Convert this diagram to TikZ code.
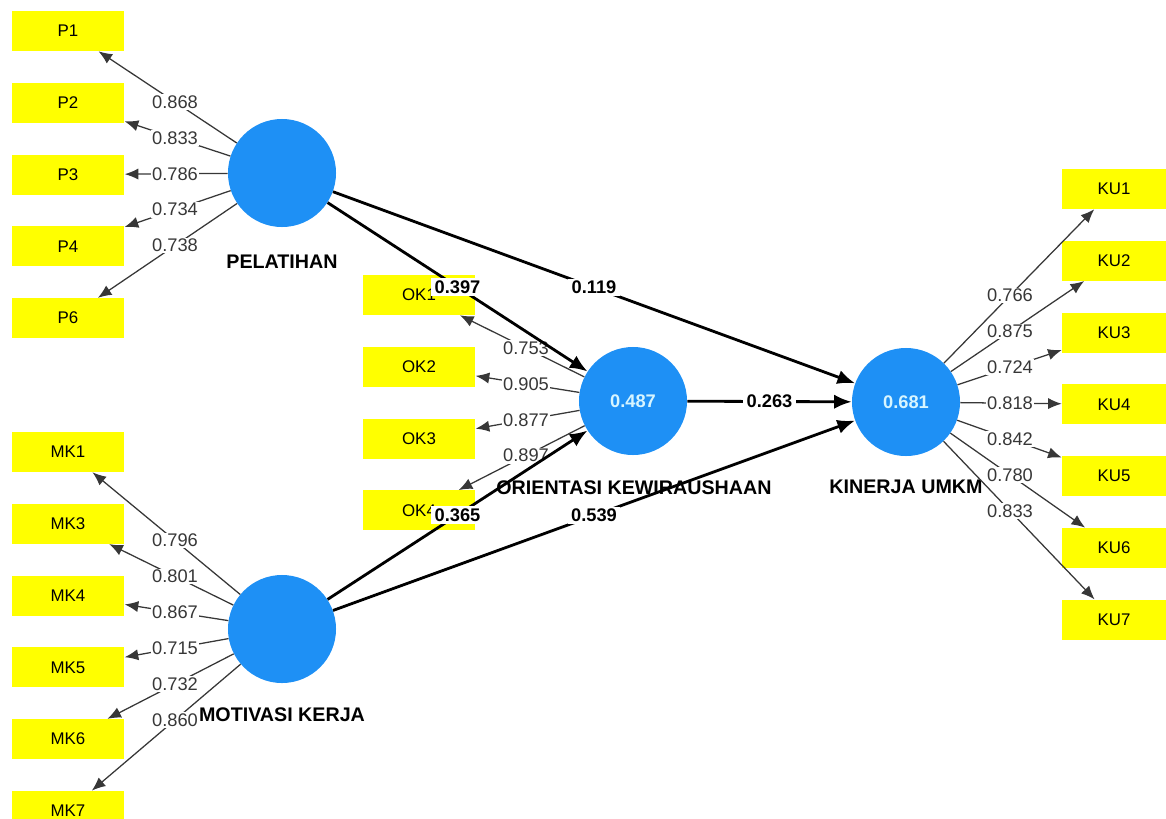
\documentclass[tikz,border=0pt]{standalone}
\usepackage{fontspec}
\setmainfont{Liberation Sans}
\usetikzlibrary{positioning,arrows.meta,calc}
\definecolor{lvblue}{RGB}{30,144,245}
\definecolor{lvtext}{RGB}{215,245,255}
\definecolor{ldgray}{RGB}{55,55,55}
\definecolor{indyellow}{RGB}{255,255,0}
\tikzset{
  ind/.style    ={rectangle, fill=indyellow, minimum width=2.82cm, minimum height=1.0cm, inner sep=0pt, font=\fontsize{12}{14}\selectfont},
  lv/.style     ={circle, fill=lvblue, minimum size=2.7cm, inner sep=0pt, text=lvtext, font=\bfseries\fontsize{13}{15}\selectfont},
  lvname/.style ={inner sep=0pt, font=\bfseries\fontsize{14}{16}\selectfont},
  ld/.style     ={-{Latex[length=3.4mm,width=2.8mm]}, draw=ldgray, line width=0.9pt},
  sm/.style     ={-{Latex[length=4.4mm,width=3.6mm]}, line width=2pt},
  ldval/.style  ={fill=white, inner sep=1pt, text=ldgray, font=\fontsize{13}{15}\selectfont},
  smval/.style  ={fill=white, inner xsep=2.5pt, inner ysep=1.5pt, font=\bfseries\fontsize{13}{15}\selectfont},
}

\begin{document}
\begin{tikzpicture}[x=0.025cm, y=-0.025cm, node distance=0.78cm]
  \useasboundingbox (0,0) rectangle (1166,818);

  % indicators
  \node[ind] (p1) at (68,31) {P1};
  \node[ind, below=of p1] (p2) {P2};
  \node[ind, below=of p2] (p3) {P3};
  \node[ind, below=of p3] (p4) {P4};
  \node[ind, below=of p4] (p6) {P6};

  \node[ind] (ok1) at (419,295) {OK1};
  \node[ind, below=of ok1] (ok2) {OK2};
  \node[ind, below=of ok2] (ok3) {OK3};
  \node[ind, below=of ok3] (ok4) {OK4};

  \node[ind] (mk1) at (68,452) {MK1};
  \node[ind, below=of mk1] (mk3) {MK3};
  \node[ind, below=of mk3] (mk4) {MK4};
  \node[ind, below=of mk4] (mk5) {MK5};
  \node[ind, below=of mk5] (mk6) {MK6};
  \node[ind, below=of mk6] (mk7) {MK7};

  \node[ind, minimum width=2.6cm] (ku1) at (1114,189) {KU1};
  \node[ind, minimum width=2.6cm, below=of ku1] (ku2) {KU2};
  \node[ind, minimum width=2.6cm, below=of ku2] (ku3) {KU3};
  \node[ind, minimum width=2.6cm, below=of ku3] (ku4) {KU4};
  \node[ind, minimum width=2.6cm, below=of ku4] (ku5) {KU5};
  \node[ind, minimum width=2.6cm, below=of ku5] (ku6) {KU6};
  \node[ind, minimum width=2.6cm, below=of ku6] (ku7) {KU7};

  % latent variables
  \node[lv] (pel) at (282,173) {};
  \node[lv] (mot) at (282,629) {};
  \node[lv] (okw) at (633,401) {0.487};
  \node[lv] (kin) at (906,402) {0.681};

  \node[lvname] (pelname) at (282,262) {PELATIHAN};
  \node[lvname] (motname) at (282,715) {MOTIVASI KERJA};
  \node[lvname] (okwname) at (634,488) {ORIENTASI KEWIRAUSHAAN};
  \node[lvname] (kinname) at (906,487) {KINERJA UMKM};

  % outer loadings
  \foreach \i/\v in {1/0.868, 2/0.833, 3/0.786, 4/0.734, 6/0.738}
    \draw[ld] (pel) -- (p\i) node[ldval] (vp\i) at ($(pel)!.5!(p\i)$) {\v};
  \foreach \i/\v in {1/0.753, 2/0.905, 3/0.877, 4/0.897}
    \draw[ld] (okw) -- (ok\i) node[ldval] (vok\i) at ($(okw)!.5!(ok\i)$) {\v};
  \foreach \i/\v in {1/0.796, 3/0.801, 4/0.867, 5/0.715, 6/0.732, 7/0.860}
    \draw[ld] (mot) -- (mk\i) node[ldval] (vmk\i) at ($(mot)!.5!(mk\i)$) {\v};
  \foreach \i/\v in {1/0.766, 2/0.875, 3/0.724, 4/0.818, 5/0.842, 6/0.780, 7/0.833}
    \draw[ld] (kin) -- (ku\i) node[ldval] (vku\i) at ($(kin)!.5!(ku\i)$) {\v};

  % path coefficients
  \draw[sm] (pel) -- node[smval] (c1) {0.397} (okw);
  \draw[sm] (pel) -- node[smval] (c2) {0.119} (kin);
  \draw[sm] (okw) -- node[smval] (c3) {0.263} (kin);
  \draw[sm] (mot) -- node[smval] (c4) {0.365} (okw);
  \draw[sm] (mot) -- node[smval] (c5) {0.539} (kin);
\end{tikzpicture}
\end{document}
